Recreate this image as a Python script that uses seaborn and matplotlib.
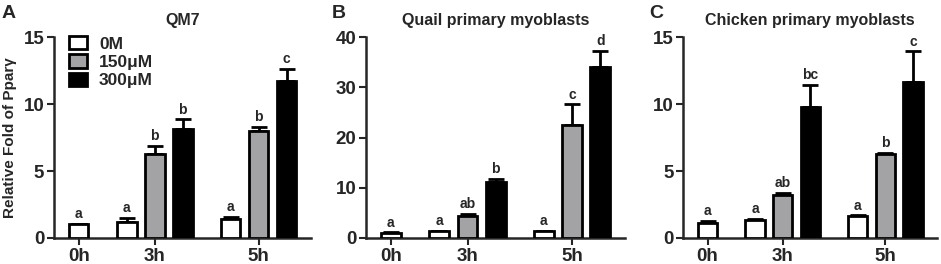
import numpy as np
import pandas as pd
import matplotlib
matplotlib.use('Agg')
import matplotlib.pyplot as plt
import seaborn as sns
from matplotlib.patches import Patch

# data (mean + SEM)
bar_time = ['0h', '3h', '3h', '3h', '5h', '5h', '5h']
bar_dose = ['0M', '0M', '150μM', '300μM', '0M', '150μM', '300μM']
doses = ['0M', '150μM', '300μM']
times = ['0h', '3h', '5h']

qm7_mean = [1.02, 1.22, 6.3, 8.15, 1.42, 8.0, 11.7]
qm7_sem = [0.05, 0.27, 0.6, 0.7, 0.15, 0.3, 0.9]
qm7_letters = ['a', 'a', 'b', 'b', 'a', 'b', 'c']

quail_mean = [1.0, 1.3, 4.4, 11.1, 1.3, 22.5, 34.0]
quail_sem = [0.1, 0.1, 0.4, 0.6, 0.1, 4.1, 3.2]
quail_letters = ['a', 'a', 'ab', 'b', 'a', 'c', 'd']

chick_mean = [1.13, 1.33, 3.2, 9.75, 1.63, 6.25, 11.68]
chick_sem = [0.12, 0.12, 0.15, 1.7, 0.05, 0.08, 2.25]
chick_letters = ['a', 'a', 'ab', 'bc', 'a', 'b', 'c']

time_pos = {'0h': 0.0, '3h': 2.72, '5h': 6.43}
dose_off = {'0M': -1.0, '150μM': 0.0, '300μM': 1.0}

sns.set_theme(style='ticks')
plt.rcParams['font.family'] = ['Liberation Sans', 'DejaVu Sans']
plt.rcParams['font.weight'] = 'bold'

colors = {'0M': 'white', '150μM': '#a3a3a6', '300μM': 'black'}

fig = plt.figure(figsize=(9.41, 2.64), dpi=100)
boxes = [(0.0574, 0.0985, 0.273, 0.761),
         (0.389, 0.0985, 0.275, 0.761),
         (0.726, 0.0985, 0.270, 0.761)]
panels = [('A', 'QM7', qm7_mean, qm7_sem, qm7_letters, [0, 5, 10, 15]),
          ('B', 'Quail primary myoblasts', quail_mean, quail_sem, quail_letters, [0, 10, 20, 30, 40]),
          ('C', 'Chicken primary myoblasts', chick_mean, chick_sem, chick_letters, [0, 5, 10, 15])]

for box, (tag, title, mean, sem, letters, yt) in zip(boxes, panels):
    ax = fig.add_axes(box)
    df = pd.DataFrame({'time': bar_time, 'dose': bar_dose, 'mean': mean, 'sem': sem})
    df['x'] = [time_pos[t] if t == '0h' else time_pos[t] + dose_off[d]
               for t, d in zip(df.time, df.dose)]
    sns.barplot(data=df, x='x', y='mean', hue='dose', hue_order=doses, palette=colors,
                native_scale=True, dodge=False, width=0.7, errorbar=None,
                edgecolor='black', linewidth=2, legend=False, ax=ax, zorder=3)
    ax.errorbar(df.x, df['mean'], yerr=[np.zeros(len(df)), df['sem']], fmt='none',
                ecolor='black', elinewidth=2, capsize=6, capthick=2, zorder=2)
    for xx, top, lab in zip(df.x, df['mean'] + df['sem'], letters):
        ax.annotate(lab, (xx, top), xytext=(0, 2), textcoords='offset points',
                    ha='center', va='bottom', fontsize=10, fontweight='bold')
    ax.set_xlim(-0.88, 8.3)
    ax.set_ylim(0, yt[-1])
    ax.set_yticks(yt)
    ax.set_xticks([time_pos[t] for t in times])
    ax.set_xticklabels(times)
    ax.set_xlabel('')
    ax.set_ylabel('')
    ax.tick_params(axis='both', labelsize=13.5, width=1.5, length=5, pad=2)
    for lbl in ax.get_xticklabels() + ax.get_yticklabels():
        lbl.set_fontweight('bold')
    for s in ['left', 'bottom']:
        ax.spines[s].set_linewidth(1.8)
    sns.despine(ax=ax)
    ax.set_title(title, fontsize=11.5, fontweight='bold', pad=9)
    fig.text(box[0] - 0.056 if tag == 'A' else box[0] - 0.036, 0.915, tag,
             fontsize=14, fontweight='bold', va='bottom')
    if tag == 'A':
        ax.set_ylabel('Relative Fold of Ppar' + 'γ', fontsize=11, fontweight='bold', labelpad=5)
        handles = [Patch(facecolor=colors[d], edgecolor='black', linewidth=2) for d in doses]
        ax.legend(handles, doses, loc='upper left', bbox_to_anchor=(0.03, 1.04), frameon=False,
                  prop={'size': 12.5, 'weight': 'bold'}, handlelength=1.05, handleheight=0.8,
                  labelspacing=0.15, handletextpad=0.7, borderaxespad=0)

fig.savefig('out.png', dpi=100)
